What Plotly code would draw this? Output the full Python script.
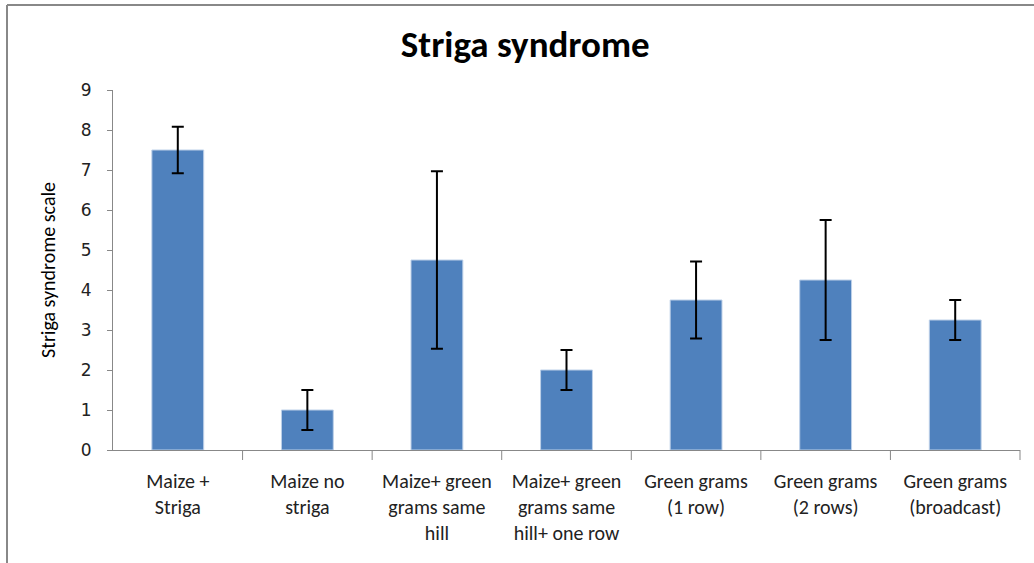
import plotly.graph_objects as go

categories = ["Maize +<br>Striga", "Maize no<br>striga", "Maize+ green<br>grams same<br>hill",
              "Maize+ green<br>grams same<br>hill+ one row", "Green grams<br>(1 row)",
              "Green grams<br>(2 rows)", "Green grams<br>(broadcast)"]
values = [7.5, 1.0, 4.75, 2.0, 3.75, 4.25, 3.25]
errors = [0.58, 0.5, 2.22, 0.5, 0.96, 1.5, 0.5]
y_ticks = [0, 1, 2, 3, 4, 5, 6, 7, 8, 9]

calibri = "Carlito, Liberation Sans Narrow, Open Sans, sans-serif"

fig = go.Figure()
fig.add_trace(go.Bar(
    x=categories, y=values,
    marker=dict(color="#4F81BD", line=dict(color="#BDD0E8", width=1)),
    error_y=dict(type="data", array=errors, visible=True, color="black", thickness=2, width=6),
    width=0.4,
))

W, H = 1034, 563
l, r, t, b = 113, 14, 90, 113
pw, ph = W - l - r, H - t - b

def px(x):
    return (x - l) / pw

def py(y):
    return (H - b - y) / ph

fig.update_layout(
    width=W, height=H,
    margin=dict(l=l, r=r, t=t, b=b),
    paper_bgcolor="white", plot_bgcolor="white",
    showlegend=False,
    title=dict(text="<b>Striga syndrome</b>", x=0.508, xanchor="center", y=1 - 44 / H, yanchor="middle",
               font=dict(family=calibri, size=37, color="black")),
    xaxis=dict(showline=True, linecolor="#888888", linewidth=1, ticks="", showgrid=False,
               ticklabelstandoff=13,
               tickfont=dict(family=calibri, size=20, color="#222222")),
    yaxis=dict(range=[0, 9], tickvals=y_ticks, showline=True, linecolor="#888888", linewidth=1,
               ticks="outside", ticklen=5, tickcolor="#888888", showgrid=False,
               ticklabelstandoff=12,
               tickfont=dict(family="DejaVu Sans, Verdana, sans-serif", size=17, color="#222222"),
               title=dict(text="Striga syndrome scale", standoff=19,
                          font=dict(family=calibri, size=20, color="black"))),
    bargap=0.6,
    shapes=[
        dict(type="line", xref="paper", yref="paper", x0=px(7), x1=px(W + 5), y0=py(5), y1=py(5),
             line=dict(color="#888888", width=2)),
        dict(type="line", xref="paper", yref="paper", x0=px(7), x1=px(7), y0=py(5), y1=py(H + 5),
             line=dict(color="#888888", width=2)),
    ]
    + [dict(type="line", xref="paper", yref="paper", x0=i / 7, x1=i / 7, y0=0, y1=-10 / ph,
            line=dict(color="#888888", width=1)) for i in range(1, 8)],
)

fig.write_html("out.html", config={"displayModeBar": False},
               post_script="document.body.style.margin='0';document.body.style.overflow='hidden';")
